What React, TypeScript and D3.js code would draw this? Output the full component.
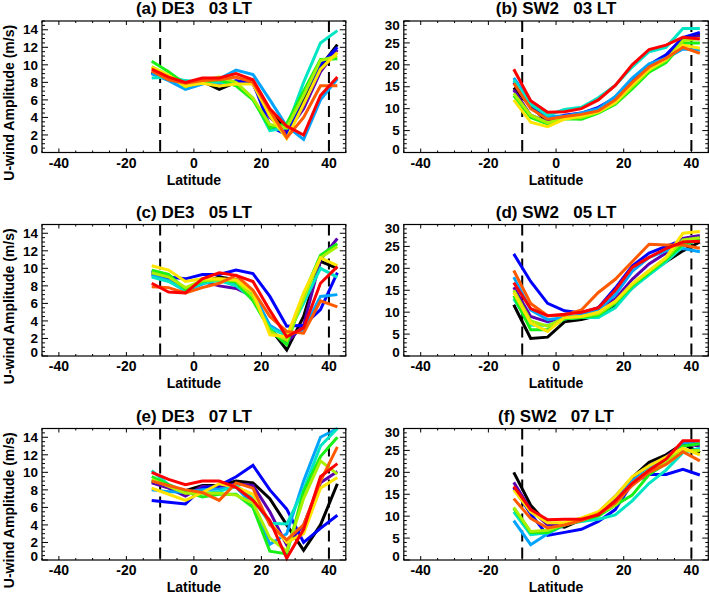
import React from 'react';
import * as d3 from 'd3';

// latitude bins (deg)
const LATS = [-12.5, -7.5, -2.5, 2.5, 7.5, 12.5, 17.5, 22.5, 27.5, 32.5, 37.5, 42.5];

const LINE_COLORS = [
  '#000000', '#5b00b0', '#0000ff', '#00a4ff', '#00e6c4',
  '#18f018', '#a8f000', '#ffe400', '#ff5a00', '#ff0000',
];

const X_TICKS = [-40, -20, 0, 20, 40];
const DE3_TICKS = [0, 2, 4, 6, 8, 10, 12, 14];
const SW2_TICKS = [0, 5, 10, 15, 20, 25, 30];
const DASHED_LATS = [-10, 40];

const DE3_03 = [
  [9.2, 8.5, 8.0, 8.1, 7.2, 8.0, 8.0, 4.8, 2.5, 6.0, 9.8, 12.3],
  [9.0, 8.4, 7.8, 8.0, 7.6, 8.2, 7.8, 4.0, 2.3, 5.0, 9.2, 11.7],
  [9.1, 8.5, 7.9, 8.3, 8.0, 8.1, 8.0, 3.0, 2.0, 6.5, 10.0, 12.0],
  [9.0, 8.2, 7.2, 7.8, 8.4, 9.4, 8.9, 6.0, 3.0, 1.5, 6.0, 8.4],
  [8.5, 8.6, 8.2, 8.0, 8.0, 7.9, 6.2, 2.5, 2.8, 8.0, 12.5, 13.9],
  [10.4, 9.2, 7.8, 8.0, 8.3, 7.6, 6.0, 2.8, 3.3, 7.0, 10.6, 10.7],
  [9.8, 8.8, 7.5, 8.2, 8.6, 8.0, 6.2, 3.2, 2.8, 6.5, 10.5, 11.0],
  [9.7, 8.8, 7.6, 7.9, 7.6, 7.8, 7.8, 4.2, 1.6, 5.5, 9.5, 11.4],
  [9.3, 8.3, 7.9, 8.2, 8.3, 8.6, 8.0, 4.8, 1.7, 4.0, 7.6, 7.6],
  [9.5, 8.6, 8.0, 8.5, 8.5, 9.0, 8.3, 5.0, 3.0, 2.0, 6.5, 8.6],
];

const SW2_03 = [
  [14.8, 10.5, 7.0, 8.0, 8.7, 9.5, 12.0, 16.0, 19.5, 21.5, 26.0, 26.8],
  [14.3, 8.5, 7.0, 8.2, 8.8, 9.7, 12.3, 16.3, 19.7, 21.8, 25.8, 26.6],
  [16.0, 11.0, 7.5, 8.5, 9.0, 10.3, 12.5, 16.5, 20.0, 22.3, 26.2, 27.4],
  [17.0, 11.5, 8.2, 8.3, 9.0, 10.0, 12.8, 17.0, 20.2, 21.5, 23.6, 23.3],
  [16.5, 11.0, 8.5, 9.8, 10.3, 12.5, 15.3, 19.5, 23.0, 24.0, 28.3, 28.3],
  [13.0, 8.0, 6.5, 7.7, 7.6, 9.0, 11.0, 14.5, 18.3, 20.5, 25.0, 25.0],
  [13.5, 8.5, 6.8, 7.8, 8.0, 9.2, 11.3, 15.0, 18.8, 21.0, 25.5, 26.0],
  [12.0, 6.9, 5.9, 7.6, 8.4, 9.3, 11.5, 15.5, 19.0, 21.3, 24.5, 23.8],
  [15.8, 10.0, 7.6, 8.2, 8.7, 9.5, 12.0, 16.0, 19.5, 21.5, 24.0, 22.6],
  [19.0, 11.8, 9.2, 9.3, 10.0, 12.0, 15.3, 20.0, 23.5, 24.5, 26.3, 25.9],
];

const DE3_05 = [
  [9.5, 9.0, 7.5, 8.4, 9.0, 8.7, 7.0, 3.2, 0.7, 4.5, 10.8, 10.0],
  [9.3, 8.8, 7.6, 8.5, 8.0, 7.7, 6.8, 3.0, 1.5, 3.5, 11.0, 13.4],
  [9.7, 9.0, 8.8, 9.3, 9.3, 9.8, 9.4, 6.8, 3.4, 3.5, 5.3, 9.5],
  [9.2, 8.6, 7.4, 8.2, 8.8, 8.3, 7.2, 3.5, 2.3, 3.0, 6.8, 7.0],
  [9.0, 8.5, 7.5, 8.3, 8.6, 8.0, 6.5, 3.2, 2.3, 6.0, 10.0, 9.0],
  [9.8, 9.3, 7.6, 8.5, 8.8, 8.4, 6.3, 3.0, 1.3, 7.0, 11.5, 12.8],
  [9.5, 9.0, 7.8, 8.6, 8.7, 8.6, 6.8, 2.8, 1.8, 6.5, 11.2, 12.5],
  [10.3, 9.8, 8.5, 8.8, 8.8, 8.7, 7.3, 2.4, 2.2, 7.2, 11.2, 10.3],
  [7.9, 7.8, 7.2, 7.8, 8.3, 9.2, 7.5, 4.5, 2.8, 2.6, 6.3, 5.6],
  [8.3, 7.3, 7.2, 8.8, 9.5, 9.2, 8.5, 5.2, 2.2, 3.2, 8.3, 10.2],
];

const SW2_05 = [
  [11.7, 4.0, 4.3, 7.8, 8.3, 9.3, 11.5, 15.5, 19.0, 21.5, 24.0, 26.0],
  [15.7, 9.0, 7.8, 8.8, 9.2, 11.0, 13.0, 17.5, 21.0, 23.5, 26.8, 27.5],
  [23.3, 17.0, 12.0, 10.3, 9.8, 11.0, 15.5, 20.5, 23.5, 25.0, 26.5, 27.0],
  [18.0, 10.5, 8.3, 8.8, 9.3, 10.5, 14.0, 19.3, 22.5, 24.0, 24.5, 23.8],
  [13.0, 7.0, 7.0, 8.5, 8.8, 8.8, 11.0, 15.5, 18.5, 21.5, 25.0, 26.8],
  [13.7, 6.0, 6.0, 8.5, 8.8, 9.3, 12.0, 16.0, 19.0, 22.0, 25.5, 26.5],
  [15.0, 8.0, 6.8, 8.7, 9.0, 9.6, 12.3, 16.3, 19.3, 22.3, 26.5, 27.0],
  [14.5, 7.5, 5.6, 8.8, 9.0, 10.0, 12.5, 16.5, 19.5, 22.5, 28.0, 28.4],
  [19.5, 12.0, 9.2, 9.3, 10.5, 14.5, 17.5, 21.5, 25.5, 25.3, 25.3, 24.6],
  [16.7, 10.8, 9.2, 9.5, 10.0, 11.0, 15.0, 20.2, 22.5, 24.5, 26.0, 26.2],
];

const DE3_07 = [
  [9.0, 8.4, 7.9, 8.5, 8.5, 9.0, 8.8, 7.0, 4.0, 1.1, 4.0, 8.7],
  [8.8, 8.2, 7.3, 8.4, 8.2, 8.7, 8.5, 5.5, 1.7, 4.0, 8.8, 10.1],
  [6.8, 6.6, 6.4, 8.2, 8.5, 9.5, 10.8, 8.0, 5.8, 2.0, 3.6, 5.1],
  [8.0, 7.8, 7.7, 8.0, 8.1, 8.3, 6.3, 1.8, 3.0, 9.0, 14.0, 15.0],
  [10.2, 8.6, 7.8, 7.6, 7.8, 8.5, 7.0, 4.2, 4.1, 8.0, 13.0, 15.0],
  [9.5, 8.6, 7.8, 7.2, 7.5, 7.5, 6.0, 1.0, 0.7, 7.8, 11.8, 14.0],
  [9.2, 8.4, 7.6, 7.6, 7.6, 7.4, 6.5, 2.5, 1.0, 7.0, 11.3, 9.8],
  [8.2, 7.5, 6.8, 7.7, 8.7, 8.3, 7.5, 4.3, 2.0, 3.0, 8.2, 9.4],
  [9.0, 8.5, 8.0, 7.7, 6.8, 8.8, 8.2, 4.0, 2.3, 4.0, 9.0, 12.9],
  [10.0, 9.2, 8.6, 9.0, 9.0, 8.3, 6.8, 4.5, 0.2, 3.5, 9.5, 11.0],
];

const SW2_07 = [
  [20.0, 12.5, 8.2, 7.5, 9.2, 10.8, 14.5, 18.8, 22.3, 24.0, 26.5, 24.5],
  [17.7, 11.5, 8.0, 8.0, 9.0, 10.5, 14.0, 18.3, 21.5, 23.5, 26.5, 26.0],
  [16.5, 10.5, 5.6, 6.3, 7.0, 8.8, 11.5, 17.5, 19.5, 19.5, 20.7, 19.4],
  [9.0, 3.5, 6.0, 8.0, 9.5, 10.5, 13.5, 18.0, 21.0, 23.0, 26.8, 26.5],
  [11.0, 5.8, 6.2, 8.2, 8.8, 9.3, 10.3, 13.5, 17.5, 20.5, 24.5, 25.5],
  [11.8, 6.3, 6.3, 8.0, 9.0, 10.0, 12.5, 14.8, 19.5, 22.0, 26.0, 26.5],
  [12.0, 6.5, 6.8, 8.2, 9.2, 10.5, 12.5, 17.5, 20.5, 22.5, 25.0, 25.0],
  [16.0, 11.0, 8.5, 8.5, 9.6, 11.0, 14.5, 19.0, 21.5, 23.5, 25.5, 24.0],
  [14.0, 9.5, 7.3, 8.0, 9.0, 10.5, 13.0, 17.0, 20.0, 21.8, 24.7, 22.6],
  [16.8, 11.5, 9.2, 9.3, 9.3, 10.3, 13.5, 17.5, 20.5, 23.0, 27.2, 27.2],
];

const PANELS = [
  { title: '(a) DE3   03 LT', kind: 'DE3', data: DE3_03, col: 0, row: 0 },
  { title: '(b) SW2   03 LT', kind: 'SW2', data: SW2_03, col: 1, row: 0 },
  { title: '(c) DE3   05 LT', kind: 'DE3', data: DE3_05, col: 0, row: 1 },
  { title: '(d) SW2   05 LT', kind: 'SW2', data: SW2_05, col: 1, row: 1 },
  { title: '(e) DE3   07 LT', kind: 'DE3', data: DE3_07, col: 0, row: 2 },
  { title: '(f) SW2   07 LT', kind: 'SW2', data: SW2_07, col: 1, row: 2 },
];

const COL_X = [[42, 345.8], [403.8, 708.3]];
const ROW_TOP = [21, 224.5, 428.5];
const PANEL_H = 131.5;
const FONT = '"Liberation Sans", Arial, Helvetica, sans-serif';

const Panel = ({ p }: { p: typeof PANELS[number] }) => {
  const [x0, x1] = COL_X[p.col];
  const top = ROW_TOP[p.row];
  const bottom = top + PANEL_H;
  const isDE3 = p.kind === 'DE3';
  const yMax = isDE3 ? 15 : 30;
  const yTicks = isDE3 ? DE3_TICKS : SW2_TICKS;
  const yMinorStep = isDE3 ? 0.5 : 1;

  const x = d3.scaleLinear().domain([-45, 45]).range([x0, x1]);
  const y = d3.scaleLinear().domain([0, yMax]).range([bottom, top]);

  const xMinor = d3.range(-45, 45.01, 5);
  const yMinor = d3.range(0, yMax + 0.001, yMinorStep);

  const line = d3
    .line<number>()
    .x((_, i) => x(LATS[i]))
    .y((d) => y(d));

  const cx = (x0 + x1) / 2;

  return (
    <g>
      <text x={cx} y={top - 7} textAnchor="middle" fontSize={17} fontWeight="bold" style={{ whiteSpace: 'pre' }}>
        {p.title}
      </text>

      {DASHED_LATS.map((v) => (
        <line key={'d' + v} x1={x(v)} x2={x(v)} y1={top} y2={bottom} stroke="#000" strokeWidth={2} strokeDasharray="11,6" />
      ))}

      {p.data.map((s, i) => (
        <path key={i} d={line(s) || ''} fill="none" stroke={LINE_COLORS[i]} strokeWidth={3} strokeLinejoin="miter" />
      ))}

      <rect x={x0} y={top} width={x1 - x0} height={PANEL_H} fill="none" stroke="#000" strokeWidth={1.2} />

      {xMinor.map((v) => {
        const major = X_TICKS.includes(v);
        const len = major ? 4 : 2;
        return (
          <g key={'xt' + v} stroke="#000" strokeWidth={1}>
            <line x1={x(v)} x2={x(v)} y1={bottom} y2={bottom - len} />
            <line x1={x(v)} x2={x(v)} y1={top} y2={top + len} />
          </g>
        );
      })}
      {yMinor.map((v) => {
        const major = yTicks.includes(v);
        const len = major ? 6 : 3;
        return (
          <g key={'yt' + v} stroke="#000" strokeWidth={1}>
            <line x1={x0} x2={x0 + len} y1={y(v)} y2={y(v)} />
            <line x1={x1} x2={x1 - len} y1={y(v)} y2={y(v)} />
          </g>
        );
      })}

      {X_TICKS.map((v) => (
        <text key={'xl' + v} x={x(v)} y={bottom + 15} textAnchor="middle" fontSize={14} fontWeight="bold">
          {v}
        </text>
      ))}
      <text x={cx} y={bottom + 32} textAnchor="middle" fontSize={14} fontWeight="bold">
        Latitude
      </text>

      {yTicks.map((v) => {
        const yy = Math.max(top + 4, Math.min(bottom - 3.5, y(v)));
        return (
          <text key={'yl' + v} x={x0 - 4} y={yy} dy="0.35em" textAnchor="end" fontSize={13.5} fontWeight="bold">
            {v}
          </text>
        );
      })}

      {p.col === 0 && (
        <text
          transform={`translate(13.5, ${top + PANEL_H / 2 + 16}) rotate(-90)`}
          textAnchor="middle"
          fontSize={14}
          fontWeight="bold"
        >
          U-wind Amplitude (m/s)
        </text>
      )}
    </g>
  );
};

const App = () => (
  <svg
    width={709}
    height={594}
    style={{ position: 'absolute', left: 0, top: 0, background: '#fff' }}
    fontFamily={FONT}
  >
    {PANELS.map((p) => (
      <Panel key={p.title} p={p} />
    ))}
  </svg>
);

export default App;
